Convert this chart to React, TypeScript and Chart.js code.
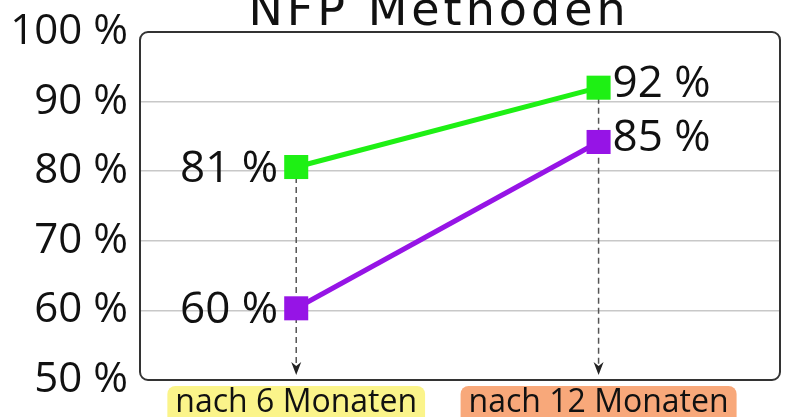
import React, { useEffect, useRef } from "react";
import { Chart, registerables } from "chart.js";

Chart.register(...registerables);

const titleText = "NFP Methoden";
const categoryPositions = [6, 12];
const categoryLabels = ["nach 6 Monaten", "nach 12 Monaten"];
const categoryColors = ["#fbf48a", "#f8a87a"];
const greenValues = [80.6, 92];
const greenLabels = ["81 %", "92 %"];
const purpleValues = [60.3, 84.2];
const purpleLabels = ["60 %", "85 %"];
const yTicks = [50, 60, 70, 80, 90, 100];

const GREEN = "#1ef014";
const PURPLE = "#9614e6";
const FONT = "'Open Sans', 'Noto Sans', sans-serif";

const noPad = () => ({ left: 0, top: 0, right: 0, bottom: 0 });

export default function App() {
  const ref = useRef<HTMLCanvasElement | null>(null);
  useEffect(() => {
    if (!ref.current) return;

    const decor = {
      id: "decor",
      beforeDraw(chart: any) {
        const { ctx, scales } = chart;
        const xs = scales.x;
        ctx.save();
        ctx.font = `32px ${FONT}`;
        categoryPositions.forEach((v, i) => {
          const x = xs.getPixelForValue(v);
          const w = ctx.measureText(categoryLabels[i]).width + 16;
          const top = xs.top + 6;
          ctx.fillStyle = categoryColors[i];
          ctx.beginPath();
          ctx.roundRect(x - w / 2, top, w, 40, 8);
          ctx.fill();
        });
        ctx.restore();
      },
      beforeDatasetsDraw(chart: any) {
        const { ctx, scales, chartArea } = chart;
        const xs = scales.x;
        const ys = scales.y;
        ctx.save();
        categoryPositions.forEach((v, i) => {
          const x = xs.getPixelForValue(v);
          const topVal = Math.max(greenValues[i], purpleValues[i]);
          const y0 = ys.getPixelForValue(topVal);
          const tip = chartArea.bottom - 5;
          ctx.strokeStyle = "#555";
          ctx.lineWidth = 1.5;
          ctx.setLineDash([6, 4]);
          ctx.beginPath();
          ctx.moveTo(x, y0);
          ctx.lineTo(x, tip - 4);
          ctx.stroke();
          ctx.setLineDash([]);
          ctx.fillStyle = "#222";
          ctx.beginPath();
          ctx.moveTo(x, tip);
          ctx.lineTo(x - 5, tip - 13);
          ctx.lineTo(x, tip - 9);
          ctx.lineTo(x + 5, tip - 13);
          ctx.closePath();
          ctx.fill();
        });
        ctx.restore();
      },
      afterDatasetsDraw(chart: any) {
        const { ctx, chartArea } = chart;
        ctx.save();
        ctx.strokeStyle = "#333";
        ctx.lineWidth = 2;
        ctx.beginPath();
        ctx.roundRect(
          chartArea.left,
          chartArea.top,
          chartArea.right - chartArea.left,
          chartArea.bottom - chartArea.top,
          8
        );
        ctx.stroke();

        ctx.font = `44px ${FONT}`;
        ctx.fillStyle = "#111";
        ctx.textBaseline = "middle";
        const metaG = chart.getDatasetMeta(0);
        const metaP = chart.getDatasetMeta(1);
        [
          { meta: metaG, labels: greenLabels },
          { meta: metaP, labels: purpleLabels },
        ].forEach(({ meta, labels }) => {
          meta.data.forEach((pt: any, i: number) => {
            if (i === 0) {
              ctx.textAlign = "right";
              ctx.fillText(labels[i], pt.x - 18, pt.y + 2);
            } else {
              ctx.textAlign = "left";
              ctx.fillText(labels[i], pt.x + 14, pt.y - 3);
            }
          });
        });

        ctx.font = `46px 'DejaVu Sans', sans-serif`;
        (ctx as any).letterSpacing = "4px";
        ctx.textAlign = "center";
        ctx.textBaseline = "alphabetic";
        ctx.fillStyle = "#111";
        ctx.fillText(titleText, (chartArea.left + chartArea.right) / 2 - 21, 25);
        ctx.restore();
      },
    };

    const chart = new Chart(ref.current, {
      type: "line",
      data: {
        datasets: [
          {
            label: "green",
            data: categoryPositions.map((x, i) => ({ x, y: greenValues[i] })),
            borderColor: GREEN,
            backgroundColor: GREEN,
            borderWidth: 5,
            pointStyle: "rect",
            pointRadius: 17,
            pointBorderWidth: 0,
          },
          {
            label: "purple",
            data: categoryPositions.map((x, i) => ({ x, y: purpleValues[i] })),
            borderColor: PURPLE,
            backgroundColor: PURPLE,
            borderWidth: 5,
            pointStyle: "rect",
            pointRadius: 17,
            pointBorderWidth: 0,
          },
        ],
      },
      options: {
        animation: false,
        responsive: false,
        layout: { autoPadding: false, padding: { top: 32, right: 8, left: 0, bottom: 0 } },
        plugins: {
          legend: { display: false },
          title: { display: false },
          tooltip: { enabled: false },
        },
        scales: {
          x: {
            type: "linear",
            min: 2.9,
            max: 15.6,
            afterFit: (s: any) => {
              s.height = 37;
              s.paddingLeft = 0;
              s.paddingRight = 0;
              s.getPadding = noPad;
            },
            afterBuildTicks: (s: any) => {
              s.ticks = categoryPositions.map((v) => ({ value: v }));
            },
            ticks: {
              autoSkip: false,
              maxRotation: 0,
              padding: 4,
              color: "#111",
              font: { family: FONT, size: 32 },
              callback: (v: any) => {
                const i = categoryPositions.indexOf(Number(v));
                return i >= 0 ? categoryLabels[i] : "";
              },
            },
            grid: { display: false, drawTicks: false },
            border: { display: false },
          },
          y: {
            type: "linear",
            min: 50,
            max: 100,
            afterFit: (s: any) => {
              s.width = 140;
              s.paddingTop = 0;
              s.paddingBottom = 0;
              s.getPadding = noPad;
            },
            afterBuildTicks: (s: any) => {
              s.ticks = yTicks.map((v) => ({ value: v }));
            },
            ticks: {
              padding: 12,
              color: "#111",
              font: { family: FONT, size: 42 },
              callback: (v: any) => `${v} %`,
            },
            grid: {
              drawTicks: false,
              lineWidth: 1.5,
              color: (c: any) =>
                c.tick && (c.tick.value === 50 || c.tick.value === 100)
                  ? "rgba(0,0,0,0)"
                  : "#c8c8c8",
            },
            border: { display: false },
          },
        },
      },
      plugins: [decor],
    } as any);
    return () => chart.destroy();
  }, []);

  return (
    <div
      style={{
        position: "absolute",
        left: 0,
        top: 0,
        width: 788,
        height: 417,
        background: "#fff",
      }}
    >
      <canvas ref={ref} width={788} height={417} style={{ width: 788, height: 417 }} />
    </div>
  );
}
